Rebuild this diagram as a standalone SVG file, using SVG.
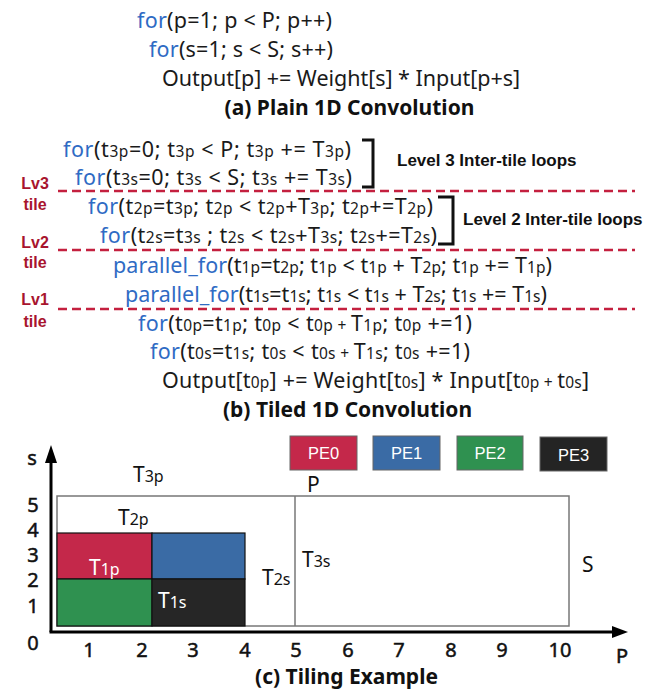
<svg xmlns="http://www.w3.org/2000/svg" width="655" height="692" viewBox="0 0 655 692">
<style>
.code{font-family:"Noto Sans","Open Sans",sans-serif;font-size:21.5px;fill:#1a1a1a}
.kw{fill:#2f6bc4}
.s{font-size:15.5px}
.title{font-family:"Noto Sans","Open Sans",sans-serif;font-size:21px;font-weight:bold;fill:#111}
.lbl{font-family:"Liberation Sans",Arial,sans-serif;font-size:17px;font-weight:bold;fill:#111}
.lv{font-family:"Liberation Sans",Arial,sans-serif;font-size:16px;font-weight:bold;fill:#a8142e;text-anchor:middle}
.dash{stroke:#c4203f;stroke-width:2.5;stroke-dasharray:9 5;fill:none}
.brk{stroke:#111;stroke-width:3;fill:none}
.ax{font-family:"Noto Sans","Open Sans",sans-serif;font-size:20px;fill:#111;stroke:#111;stroke-width:0.5;text-anchor:middle}
.tl{font-family:"Noto Sans","Open Sans",sans-serif;font-size:21px;fill:#111}
.tl .s{font-size:16px}
.w{fill:#fff}
.pe{stroke:#666;stroke-width:1}
.pet{font-family:"Liberation Sans",Arial,sans-serif;font-size:16.5px;fill:#fff;text-anchor:middle}
</style>

<g id="plain-code">
<text class="code" x="137" y="28" textLength="195" lengthAdjust="spacing"><tspan class="kw">for</tspan>(p=1; p &lt; P; p++)</text>
<text class="code" x="149" y="57" textLength="184" lengthAdjust="spacing"><tspan class="kw">for</tspan>(s=1; s &lt; S; s++)</text>
<text class="code" x="162" y="86" textLength="358" lengthAdjust="spacing">Output[p] += Weight[s] * Input[p+s]</text>
<text class="title" x="349.5" y="115" text-anchor="middle">(a) Plain 1D Convolution</text>
</g>

<g id="tiled-code">
<text class="code" x="63" y="157" textLength="288" lengthAdjust="spacing"><tspan class="kw">for</tspan>(t<tspan class="s">3p</tspan>=0; t<tspan class="s">3p</tspan> &lt; P; t<tspan class="s">3p</tspan> += T<tspan class="s">3p</tspan>)</text>
<text class="code" x="75" y="185" textLength="277" lengthAdjust="spacing"><tspan class="kw">for</tspan>(t<tspan class="s">3s</tspan>=0; t<tspan class="s">3s</tspan> &lt; S; t<tspan class="s">3s</tspan> += T<tspan class="s">3s</tspan>)</text>
<text class="code" x="88" y="214" textLength="345" lengthAdjust="spacing"><tspan class="kw">for</tspan>(t<tspan class="s">2p</tspan>=t<tspan class="s">3p</tspan>; t<tspan class="s">2p</tspan> &lt; t<tspan class="s">2p</tspan>+T<tspan class="s">3p</tspan>; t<tspan class="s">2p</tspan>+=T<tspan class="s">2p</tspan>)</text>
<text class="code" x="100" y="243" textLength="337" lengthAdjust="spacing"><tspan class="kw">for</tspan>(t<tspan class="s">2s</tspan>=t<tspan class="s">3s</tspan> ; t<tspan class="s">2s</tspan> &lt; t<tspan class="s">2s</tspan>+T<tspan class="s">3s</tspan>; t<tspan class="s">2s</tspan>+=T<tspan class="s">2s</tspan>)</text>
<text class="code" x="113" y="273" textLength="439" lengthAdjust="spacing"><tspan class="kw">parallel_for</tspan>(t<tspan class="s">1p</tspan>=t<tspan class="s">2p</tspan>; t<tspan class="s">1p</tspan> &lt; t<tspan class="s">1p</tspan> + T<tspan class="s">2p</tspan>; t<tspan class="s">1p</tspan> += T<tspan class="s">1p</tspan>)</text>
<text class="code" x="125" y="302" textLength="422" lengthAdjust="spacing"><tspan class="kw">parallel_for</tspan>(t<tspan class="s">1s</tspan>=t<tspan class="s">1s</tspan>; t<tspan class="s">1s</tspan> &lt; t<tspan class="s">1s</tspan> + T<tspan class="s">2s</tspan>; t<tspan class="s">1s</tspan> += T<tspan class="s">1s</tspan>)</text>
<text class="code" x="138" y="331" textLength="334" lengthAdjust="spacing"><tspan class="kw">for</tspan>(t<tspan class="s">0p</tspan>=t<tspan class="s">1p</tspan>; t<tspan class="s">0p</tspan> &lt; t<tspan class="s">0p + </tspan>T<tspan class="s">1p</tspan>; t<tspan class="s">0p</tspan> +=1)</text>
<text class="code" x="150" y="359" textLength="320" lengthAdjust="spacing"><tspan class="kw">for</tspan>(t<tspan class="s">0s</tspan>=t<tspan class="s">1s</tspan>; t<tspan class="s">0s</tspan> &lt; t<tspan class="s">0s + </tspan>T<tspan class="s">1s</tspan>; t<tspan class="s">0s</tspan> +=1)</text>
<text class="code" x="162" y="388" textLength="427" lengthAdjust="spacing">Output[t<tspan class="s">0p</tspan>] += Weight[t<tspan class="s">0s</tspan>] * Input[t<tspan class="s">0p + </tspan>t<tspan class="s">0s</tspan>]</text>
<text class="title" x="347.5" y="417" text-anchor="middle">(b) Tiled 1D Convolution</text>
</g>

<g id="level-markers">
<path class="brk" d="M362,140 H373 V187 H362"/>
<text class="lbl" x="397" y="166">Level 3 Inter-tile loops</text>
<path class="brk" d="M438,197 H453 V244 H438"/>
<text class="lbl" x="463" y="225">Level 2 Inter-tile loops</text>
<line class="dash" x1="58" y1="191" x2="635" y2="191"/>
<line class="dash" x1="58" y1="250" x2="635" y2="250"/>
<line class="dash" x1="58" y1="309" x2="635" y2="309"/>
<text class="lv" x="35" y="189">Lv3</text>
<text class="lv" x="35" y="210">tile</text>
<text class="lv" x="35" y="248">Lv2</text>
<text class="lv" x="35" y="268">tile</text>
<text class="lv" x="35" y="305">Lv1</text>
<text class="lv" x="35" y="327">tile</text>
</g>

<g id="legend">
<rect class="pe" x="290" y="436" width="67" height="34" fill="#c4284a"/>
<text class="pet" x="323.5" y="459">PE0</text>
<rect class="pe" x="373" y="436" width="67" height="34" fill="#3a6ba5"/>
<text class="pet" x="406.5" y="459">PE1</text>
<rect class="pe" x="457" y="436" width="66" height="34" fill="#2f9150"/>
<text class="pet" x="490" y="459">PE2</text>
<rect class="pe" x="540" y="437" width="67" height="34" fill="#242424"/>
<text class="pet" x="573.5" y="461">PE3</text>
</g>

<g id="tiles">
<rect x="57" y="496" width="512" height="130" fill="none" stroke="#777" stroke-width="1.5"/>
<line x1="295" y1="496" x2="295" y2="626" stroke="#777" stroke-width="1.5"/>
<rect x="57" y="533" width="95" height="46" fill="#c4284a" stroke="#111" stroke-width="1.2"/>
<rect x="152" y="533" width="93" height="46" fill="#3a6ba5" stroke="#111" stroke-width="1.2"/>
<rect x="57" y="579" width="95" height="47" fill="#2f9150" stroke="#111" stroke-width="1.2"/>
<rect x="152" y="579" width="93" height="47" fill="#262626" stroke="#111" stroke-width="1.2"/>
<text class="tl" x="133" y="482">T<tspan class="s">3p</tspan></text>
<text class="tl" x="307" y="492">P</text>
<text class="tl" x="118" y="525">T<tspan class="s">2p</tspan></text>
<text class="tl w" x="89" y="575">T<tspan class="s">1p</tspan></text>
<text class="tl w" x="158" y="608">T<tspan class="s">1s</tspan></text>
<text class="tl" x="262" y="585">T<tspan class="s">2s</tspan></text>
<text class="tl" x="302" y="567">T<tspan class="s">3s</tspan></text>
<text class="tl" x="582" y="572">S</text>
</g>

<g id="axes">
<line x1="51" y1="632" x2="51" y2="460" stroke="#000" stroke-width="3"/>
<path d="M51,445 L57,463 L45,463 Z" fill="#000"/>
<line x1="49.5" y1="632" x2="613" y2="632" stroke="#000" stroke-width="3"/>
<path d="M628,632 L612,626 L612,638 Z" fill="#000"/>
<text class="ax" x="32" y="465">s</text>
<text class="ax" x="33" y="512">5</text>
<text class="ax" x="33" y="537">4</text>
<text class="ax" x="33" y="562">3</text>
<text class="ax" x="33" y="587">2</text>
<text class="ax" x="33" y="613">1</text>
<text class="ax" x="33" y="650">0</text>
<text class="ax" x="89" y="657">1</text>
<text class="ax" x="142" y="657">2</text>
<text class="ax" x="193" y="657">3</text>
<text class="ax" x="245" y="657">4</text>
<text class="ax" x="296" y="657">5</text>
<text class="ax" x="348" y="657">6</text>
<text class="ax" x="399" y="657">7</text>
<text class="ax" x="451" y="657">8</text>
<text class="ax" x="502" y="657">9</text>
<text class="ax" x="560" y="657">10</text>
<text class="ax" x="622" y="663">P</text>
<text class="title" x="346.5" y="684" text-anchor="middle">(c) Tiling Example</text>
</g>
</svg>
